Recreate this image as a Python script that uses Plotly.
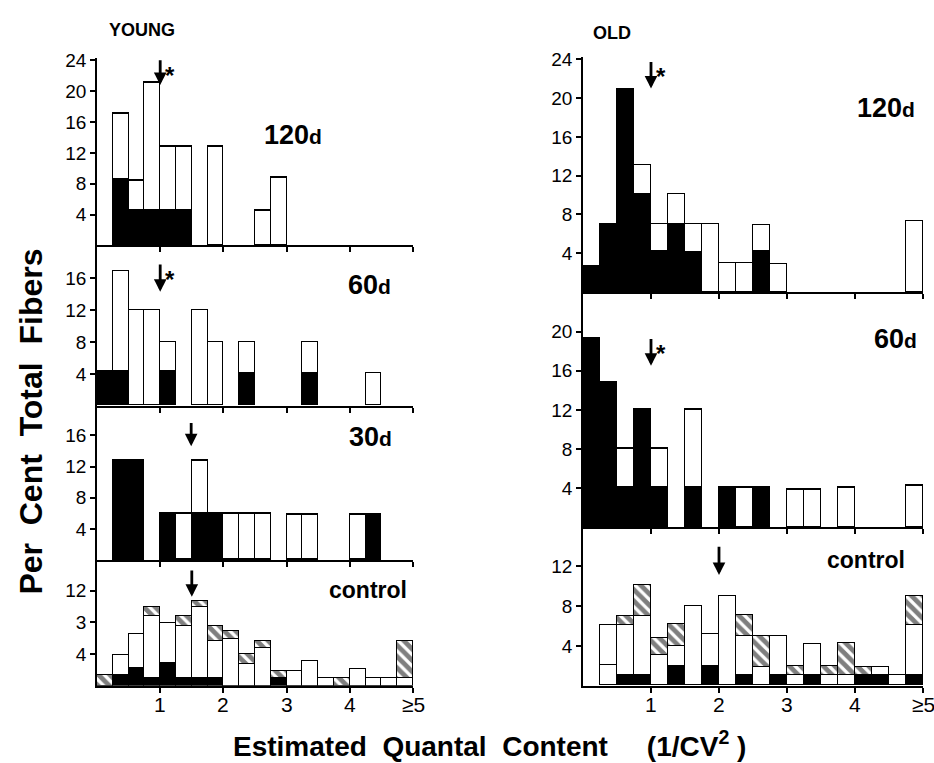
import plotly.graph_objects as go

W, H = 934, 763

# ---------------- data (per cent of fibres per 0.25-wide bin, bins 0..19 cover 0..5) ----------------
bin_width = 0.25
bin_centers = [0.125 + 0.25 * i for i in range(20)]
x_tickvals = [1, 2, 3, 4, 5]
x_ticktext = ["1", "2", "3", "4", "≥5"]

# YOUNG 120d
young120_black = [0, 8.5, 4.5, 4.5, 4.5, 4.5, 0, 0, 0, 0, 0, 0, 0, 0, 0, 0, 0, 0, 0, 0]
young120_white = [0, 8.5, 3.8, 16.5, 8.3, 8.3, 0, 12.8, 0, 0, 4.5, 8.7, 0, 0, 0, 0, 0, 0, 0, 0]
# YOUNG 60d
young60_black = [4.3, 4.3, 0, 0, 4.3, 0, 0, 0, 0, 4.0, 0, 0, 0, 4.0, 0, 0, 0, 0, 0, 0]
young60_white = [0, 12.5, 12.0, 12.0, 3.7, 0, 12.0, 8.0, 0, 4.0, 0, 0, 0, 4.0, 0, 0, 0, 4.0, 0, 0]
# YOUNG 30d
young30_black = [0, 12.7, 12.7, 0, 6.0, 0, 6.0, 6.0, 0, 0, 0, 0, 0, 0, 0, 0, 0, 5.8, 0, 0]
young30_white = [0, 0, 0, 0, 0, 6.0, 6.7, 0, 6.0, 6.0, 6.0, 0, 5.8, 5.8, 0, 0, 5.8, 0, 0, 0]
# YOUNG control
youngc_black = [0, 1.4, 2.2, 1.0, 2.9, 1.0, 1.0, 1.0, 0, 0, 0, 1.0, 0, 0, 0, 0, 0, 0, 0, 0]
youngc_white = [0, 2.5, 4.3, 7.75, 5.0, 6.6, 8.9, 4.6, 5.9, 2.8, 4.7, 0, 1.8, 3.1, 1.0, 0, 2.1, 1.0, 1.0, 1.0]
youngc_hatch = [1.4, 0, 0, 1.15, 0, 1.2, 0.85, 2.0, 1.0, 1.2, 1.0, 0.8, 0, 0, 0, 1.0, 0, 0, 0, 4.7]
# OLD 120d
old120_black = [2.6, 7.0, 20.9, 10.1, 4.2, 7.0, 4.1, 0, 0, 0, 4.2, 0, 0, 0, 0, 0, 0, 0, 0, 0]
old120_white = [0, 0, 0, 3.0, 2.8, 3.1, 2.9, 7.0, 2.95, 2.95, 2.65, 2.85, 0, 0, 0, 0, 0, 0, 0, 7.25]
# OLD 60d
old60_black = [19.25, 14.8, 4.0, 12.0, 4.0, 0, 4.0, 0, 4.0, 0, 4.0, 0, 0, 0, 0, 0, 0, 0, 0, 0]
old60_white = [0, 0, 4.0, 0, 4.0, 0, 8.0, 0, 0, 4.0, 0, 0, 3.8, 3.8, 0, 4.0, 0, 0, 0, 4.2]
# OLD control
oldc_black = [0, 0, 1.0, 1.0, 0, 1.9, 0, 1.9, 0, 1.0, 0, 1.0, 0, 1.0, 0, 0, 1.0, 1.0, 0, 1.0]
oldc_white = [0, 2.05, 5.0, 5.9, 3.0, 2.0, 8.0, 3.2, 9.0, 3.9, 1.8, 3.9, 1.0, 3.1, 1.0, 1.0, 0, 0.8, 1.0, 5.0]
oldc_white2 = [0, 3.95, 0, 0, 0, 0, 0, 0, 0, 0, 0, 0, 0, 0, 0, 0, 0, 0, 0, 0]
oldc_hatch = [0, 0, 0.9, 3.2, 1.7, 2.2, 0, 0, 0, 2.1, 3.1, 0, 0.9, 0, 0.9, 3.2, 0.8, 0, 0, 3.0]

# arrows (mean values): x, tail y, tip y
arrow_x = [1.0, 1.0, 1.49, 1.5, 1.0, 1.0, 2.0]
arrow_tail = [24.2, 17.9, 17.8, 14.75, 23.9, 19.4, 14.1]
arrow_tip = [20.8, 14.3, 14.6, 11.25, 21.0, 16.5, 11.1]
arrow_star = [True, True, False, False, True, True, False]

# ---------------- layout geometry (pixels) ----------------
# panel: (x0px, x1px, bottom px, top px, yrange top, y tickvals, y ticktext, bottom-row)
panels = [
    (97, 413, 240, 50.5, 24.3, [4, 8, 12, 16, 20, 24], None, False),
    (97, 413, 402, 240, 20.1, [4, 8, 12, 16], None, False),
    (97, 413, 558, 402, 19.8, [4, 8, 12, 16], None, False),
    (97, 413, 685, 558, 15.875, [4, 8, 12], ["4", "3", "12"], True),
    (583, 923, 287, 50, 24.2, [4, 8, 12, 16, 20, 24], None, False),
    (583, 923, 525, 287, 24.04, [4, 8, 12, 16, 20], None, False),
    (583, 923, 685, 525, 15.87, [4, 8, 12], None, True),
]

series = [
    [("black", young120_black), ("white", young120_white)],
    [("black", young60_black), ("white", young60_white)],
    [("black", young30_black), ("white", young30_white)],
    [("black", youngc_black), ("white", youngc_white), ("hatch", youngc_hatch)],
    [("black", old120_black), ("white", old120_white)],
    [("black", old60_black), ("white", old60_white)],
    [("black", oldc_black), ("white", oldc_white), ("white", oldc_white2), ("hatch", oldc_hatch)],
]

FAM = "Liberation Sans, Arial, Helvetica, sans-serif"
fig = go.Figure()
TICKFONT = dict(family=FAM, size=19, color="black")

for k, (px0, px1, pb, pt, ytop, yt, ytt, bottom) in enumerate(panels):
    n = k + 1
    xa = "x" if n == 1 else f"x{n}"
    ya = "y" if n == 1 else f"y{n}"
    xkey = "xaxis" if n == 1 else f"xaxis{n}"
    ykey = "yaxis" if n == 1 else f"yaxis{n}"
    fig.layout[xkey] = dict(
        domain=[px0 / W, px1 / W], range=[0, 5], anchor=ya,
        showline=True, linecolor="black", linewidth=1.6, mirror=False,
        ticks="outside", ticklen=5, tickwidth=1.6, tickcolor="black",
        tickvals=x_tickvals, showticklabels=False,
        showgrid=False, zeroline=False, fixedrange=True,
    )
    fig.layout[ykey] = dict(
        domain=[1 - pb / H, 1 - pt / H], range=[0, ytop], anchor=xa,
        showline=True, linecolor="black", linewidth=1.6,
        ticks="outside", ticklen=5, tickwidth=1.6, tickcolor="black",
        tickvals=yt, ticktext=ytt if ytt else [str(v) for v in yt],
        tickfont=TICKFONT, showgrid=False, zeroline=False, fixedrange=True,
    )
    for kind, vals in series[k]:
        yv = [v if v > 0 else None for v in vals]
        marker = dict(line=dict(color="black", width=1.5))
        if kind == "black":
            marker["color"] = "black"
        elif kind == "white":
            marker["color"] = "white"
        else:
            marker["color"] = "white"
            marker["pattern"] = dict(shape="\\", fgcolor="black", bgcolor="white",
                                     size=8, solidity=0.6, fillmode="overlay")
        fig.add_trace(go.Bar(x=bin_centers, y=yv, width=bin_width, marker=marker,
                             xaxis=xa, yaxis=ya, showlegend=False, hoverinfo="skip"))
    # arrow marking mean
    fig.add_annotation(x=arrow_x[k], y=arrow_tip[k], ax=arrow_x[k], ay=arrow_tail[k],
                       xref=xa, yref=ya, axref=xa, ayref=ya, showarrow=True,
                       arrowhead=2, arrowsize=0.9, arrowwidth=2.8, arrowcolor="black", text="")
    if arrow_star[k]:
        fig.add_annotation(x=arrow_x[k], y=arrow_tail[k], xref=xa, yref=ya, text="<b>*</b>",
                           showarrow=False, xanchor="left", yanchor="top", xshift=3, yshift=-1,
                           font=dict(family=FAM, size=24, color="black"))
    # bottom-row tick labels
    if bottom:
        for tv, tt in zip(x_tickvals, x_ticktext):
            fig.add_annotation(x=tv, y=1 - 704 / H, xref=xa, yref="paper", text=tt,
                               showarrow=False, xanchor="center", yanchor="middle",
                               font=dict(family=FAM, size=21, color="black"))

# panel labels
D = "<span style='font-size:21px'>d</span>"
labels = [
    ("<b>120" + D + "</b>", 293, 128, 27),
    ("<b>60" + D + "</b>", 369, 280, 27),
    ("<b>30" + D + "</b>", 370, 434, 27),
    ("<b>control</b>", 368, 588, 23),
    ("<b>120" + D + "</b>", 886, 101, 27),
    ("<b>60" + D + "</b>", 895, 335, 27),
    ("<b>control</b>", 866, 558, 23),
    ("<b>YOUNG</b>", 142, 22, 18),
    ("<b>OLD</b>", 612, 25, 18),
]
for txt, px, py, sz in labels:
    fig.add_annotation(x=px / W, y=1 - py / H, xref="paper", yref="paper", text=txt,
                       showarrow=False, xanchor="center", yanchor="middle",
                       font=dict(family=FAM, size=sz, color="black"))

# axis titles
fig.add_annotation(x=31 / W, y=1 - 418 / H, xref="paper", yref="paper", xanchor="center", yanchor="middle",
                   text="<b>Per  Cent  Total  Fibers</b>", textangle=-90, showarrow=False,
                   font=dict(family=FAM, size=32, color="black"))
fig.add_annotation(x=490 / W, y=1 - 744 / H, xref="paper", yref="paper", xanchor="center", yanchor="middle",
                   text="<b>Estimated  Quantal  Content     (1/CV<sup>2</sup> )</b>", showarrow=False,
                   font=dict(family=FAM, size=28, color="black"))

fig.update_layout(
    width=W, height=H, margin=dict(l=0, r=0, t=0, b=0),
    paper_bgcolor="white", plot_bgcolor="white", barmode="stack", bargap=0,
)

fig.write_html("out.html")
